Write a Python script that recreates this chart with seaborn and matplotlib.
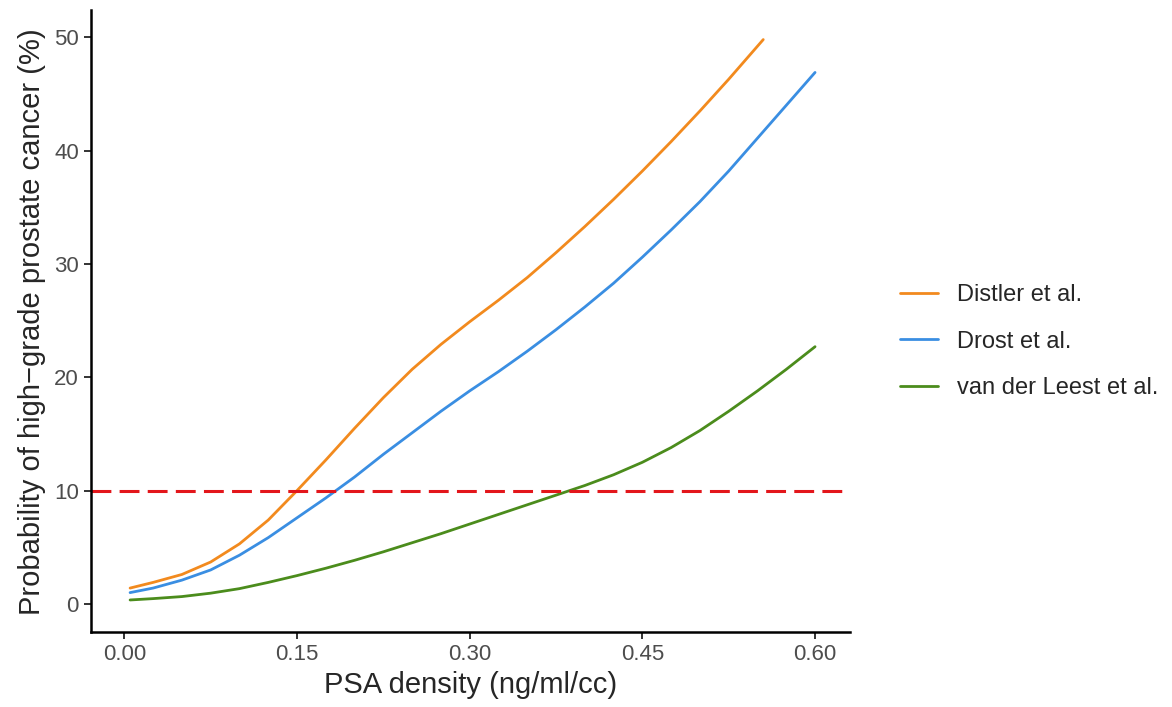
import matplotlib
matplotlib.use("Agg")
import matplotlib.pyplot as plt
import pandas as pd
import seaborn as sns

# values
distler_x = [0.005, 0.025, 0.05, 0.075, 0.10, 0.125, 0.15, 0.175, 0.20, 0.225, 0.25, 0.275,
             0.30, 0.325, 0.35, 0.375, 0.40, 0.425, 0.45, 0.475, 0.50, 0.525, 0.555]
distler_y = [1.4, 1.9, 2.6, 3.7, 5.3, 7.4, 10.0, 12.7, 15.5, 18.2, 20.7, 22.9,
             24.9, 26.8, 28.8, 31.0, 33.3, 35.7, 38.2, 40.8, 43.5, 46.3, 49.8]

drost_x = [0.005, 0.025, 0.05, 0.075, 0.10, 0.125, 0.15, 0.175, 0.20, 0.225, 0.25, 0.275,
           0.30, 0.325, 0.35, 0.375, 0.40, 0.425, 0.45, 0.475, 0.50, 0.525, 0.55, 0.575, 0.60]
drost_y = [1.0, 1.4, 2.1, 3.0, 4.3, 5.85, 7.6, 9.35, 11.2, 13.2, 15.1, 17.0,
           18.8, 20.5, 22.3, 24.2, 26.2, 28.3, 30.6, 33.0, 35.5, 38.2, 41.1, 44.0, 46.9]

leest_x = [0.005, 0.025, 0.05, 0.075, 0.10, 0.125, 0.15, 0.175, 0.20, 0.225, 0.25, 0.275,
           0.30, 0.325, 0.35, 0.375, 0.40, 0.425, 0.45, 0.475, 0.50, 0.525, 0.55, 0.575, 0.60]
leest_y = [0.35, 0.47, 0.65, 0.95, 1.35, 1.9, 2.5, 3.15, 3.85, 4.6, 5.4, 6.2,
           7.05, 7.9, 8.75, 9.6, 10.45, 11.4, 12.5, 13.8, 15.3, 17.0, 18.8, 20.7, 22.7]

studies = ["Distler et al.", "Drost et al.", "van der Leest et al."]
colors = ["#F28A1E", "#3A8EE2", "#4B8C1C"]
threshold = 10
x_ticks = [0.00, 0.15, 0.30, 0.45, 0.60]
y_ticks = [0, 10, 20, 30, 40, 50]

df = pd.concat([
    pd.DataFrame({"psad": distler_x, "prob": distler_y, "study": studies[0]}),
    pd.DataFrame({"psad": drost_x, "prob": drost_y, "study": studies[1]}),
    pd.DataFrame({"psad": leest_x, "prob": leest_y, "study": studies[2]}),
])

sns.set_style("white")
plt.rcParams["font.family"] = ["Liberation Sans", "DejaVu Sans"]

fig = plt.figure(figsize=(11.72, 7.07), dpi=100)
ax = fig.add_axes([0.0774, 0.1057, 0.648, 0.88])

sns.lineplot(data=df, x="psad", y="prob", hue="study", hue_order=studies,
             palette=colors, linewidth=2.0, ax=ax, sort=False)
ax.axhline(threshold, color="#E3161B", linewidth=2.2, dashes=(6.5, 2.7))

ax.set_xlim(-0.0292, 0.6305)
ax.set_ylim(-2.5, 52.4)
ax.set_xticks(x_ticks)
ax.set_xticklabels([f"{t:.2f}" for t in x_ticks])
ax.set_yticks(y_ticks)
ax.tick_params(axis="both", labelsize=16, labelcolor="#4D4D4D", color="#333333",
               length=5, width=1.4, direction="out", bottom=True, left=True)
ax.set_xlabel("PSA density (ng/ml/cc)", fontsize=21, labelpad=4)
ax.set_ylabel("Probability of high\u2212grade prostate cancer (%)", fontsize=21, labelpad=6)

for side in ["top", "right"]:
    ax.spines[side].set_visible(False)
for side in ["left", "bottom"]:
    ax.spines[side].set_color("black")
    ax.spines[side].set_linewidth(1.8)

handles, labels = ax.get_legend_handles_labels()
ax.legend_.remove()
fig.legend(handles, labels, loc="center left", bbox_to_anchor=(0.768, 0.5167),
           frameon=False, fontsize=17, handlelength=1.6, handletextpad=0.8,
           labelspacing=1.05, borderpad=0, borderaxespad=0)

fig.savefig("out.png", dpi=100)
